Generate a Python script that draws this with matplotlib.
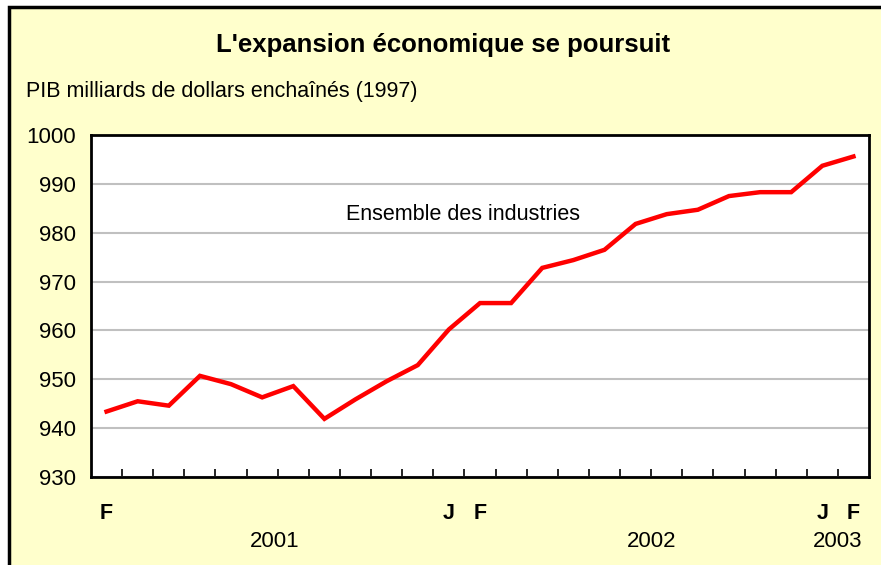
import numpy as np
import matplotlib
matplotlib.use("Agg")
import matplotlib.pyplot as plt
from matplotlib.patches import Rectangle
from matplotlib.transforms import blended_transform_factory

plt.rcParams['font.family'] = ['Liberation Sans', 'DejaVu Sans']

# PIB mensuel, fev 2001 -> fev 2003
pib = [943.4, 945.5, 944.6, 950.7, 949.0, 946.3, 948.6, 941.9, 945.9, 949.6,
       952.9, 960.2, 965.6, 965.6, 972.8, 974.4, 976.5, 981.8, 983.8, 984.7,
       987.5, 988.3, 988.3, 993.7, 995.6]
month_pos = [0, 11, 12, 23, 24]
month_lbl = ["F", "J", "F", "J", "F"]
year_pos = [5.4, 17.5, 23.5]
year_lbl = ["2001", "2002", "2003"]
yticks = [930, 940, 950, 960, 970, 980, 990, 1000]

bg = '#FFFFCC'
fig = plt.figure(figsize=(8.81, 5.65), dpi=100, facecolor='white')
fig.patches.append(Rectangle((9 / 881, -0.1), 1.0, 1.0 + 0.1 - 7 / 565,
                             transform=fig.transFigure, facecolor=bg,
                             edgecolor='black', lw=2.5, zorder=-1))

ax = fig.add_axes([91 / 881, 88 / 565, 778 / 881, 342 / 565])
ax.set_facecolor('white')
x = np.arange(len(pib))
ax.plot(x, pib, color='#FF0000', lw=3.2, solid_joinstyle='miter', zorder=3)

ax.set_xlim(-0.5, len(pib) - 0.5)
ax.set_ylim(930, 1000)
ax.set_yticks(yticks)
ax.set_yticklabels([str(v) for v in yticks], fontsize=16)
ax.yaxis.grid(True, color='#C0C0C0', lw=1.5)
ax.set_axisbelow(True)
ax.tick_params(axis='y', length=0, pad=11)

ax.set_xticks(np.arange(0.5, len(pib) - 1, 1.0), minor=True)
ax.set_xticks(month_pos)
ax.set_xticklabels(month_lbl, fontsize=15.5, fontweight='bold')
ax.tick_params(axis='x', which='major', length=0, pad=19)
ax.tick_params(axis='x', which='minor', direction='in', length=6, width=1.2)

for s in ax.spines.values():
    s.set_linewidth(2)
    s.set_color('black')

tr = blended_transform_factory(ax.transData, ax.transAxes)
for p, lbl in zip(year_pos, year_lbl):
    ax.text(p, -0.19, lbl, transform=tr, ha='center', va='center', fontsize=16)

ax.text(11.45, 983.8, "Ensemble des industries", ha='center', va='center',
        fontsize=15.5)

fig.text(443 / 881, 1 - 45 / 565, "L'expansion économique se poursuit",
         ha='center', va='center', fontsize=18.5, fontweight='bold')
fig.text(26 / 881, 1 - 92 / 565, "PIB milliards de dollars enchaînés (1997)",
         ha='left', va='center', fontsize=15.5)

fig.savefig("out.png", dpi=100, facecolor=fig.get_facecolor())
